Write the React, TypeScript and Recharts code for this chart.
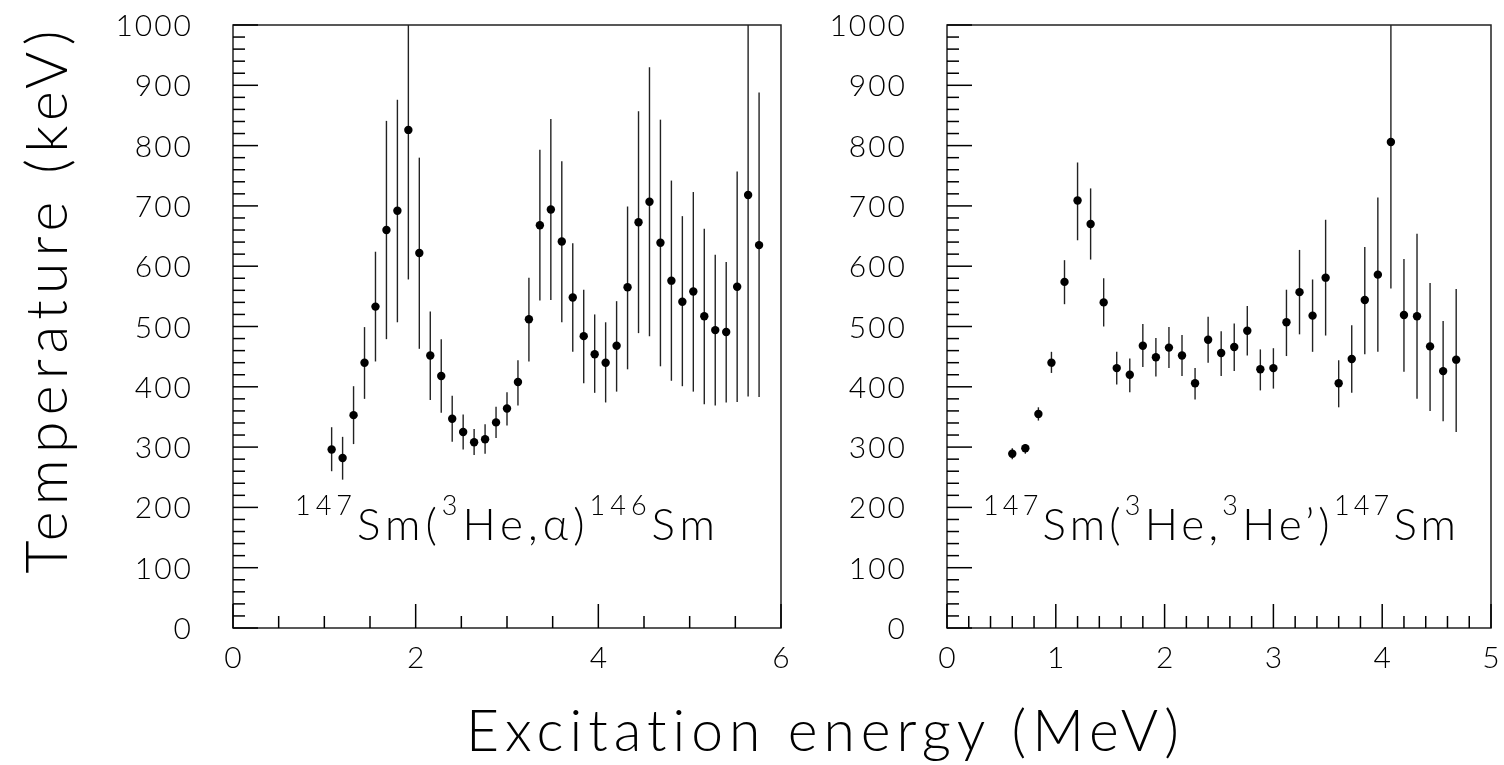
import React from 'react';
import { ScatterChart, Scatter, XAxis, YAxis, ErrorBar, ReferenceArea } from 'recharts';

// 147Sm(3He,alpha)146Sm
const ALPHA_E = [1.08, 1.2, 1.32, 1.44, 1.56, 1.68, 1.8, 1.92, 2.04, 2.16, 2.28, 2.4, 2.52, 2.64, 2.76, 2.88, 3.0, 3.12, 3.24, 3.36,
  3.48, 3.6, 3.72, 3.84, 3.96, 4.08, 4.2, 4.32, 4.44, 4.56, 4.68, 4.8, 4.92, 5.04, 5.16, 5.28, 5.4, 5.52, 5.64, 5.76];
const ALPHA_T = [296, 282, 353, 440, 533, 660, 692, 826, 622, 452, 418, 347, 325, 308, 313, 341, 364, 408, 512, 668,
  694, 641, 548, 484, 454, 440, 468, 565, 673, 707, 639, 576, 541, 558, 517, 494, 491, 566, 718, 635];
const ALPHA_LOW = [260, 246, 305, 380, 442, 479, 507, 578, 463, 378, 357, 309, 296, 287, 289, 315, 336, 369, 442, 543,
  544, 507, 458, 406, 390, 374, 392, 429, 489, 484, 434, 410, 401, 392, 371, 369, 374, 375, 384, 383];
const ALPHA_HIGH = [333, 317, 401, 499, 624, 841, 876, 1000, 780, 525, 479, 385, 354, 330, 338, 367, 391, 444, 581, 793,
  844, 774, 638, 561, 520, 507, 542, 699, 857, 930, 843, 742, 683, 723, 662, 619, 607, 757, 1000, 888];

// 147Sm(3He,3He')147Sm
const INEL_E = [0.6, 0.72, 0.84, 0.96, 1.08, 1.2, 1.32, 1.44, 1.56, 1.68, 1.8, 1.92, 2.04, 2.16, 2.28, 2.4, 2.52, 2.64,
  2.76, 2.88, 3.0, 3.12, 3.24, 3.36, 3.48, 3.6, 3.72, 3.84, 3.96, 4.08, 4.2, 4.32, 4.44, 4.56, 4.68];
const INEL_T = [289, 298, 355, 440, 574, 709, 670, 540, 431, 420, 468, 449, 465, 452, 406, 478, 456, 466,
  493, 429, 431, 507, 557, 518, 581, 406, 446, 544, 586, 806, 519, 517, 467, 426, 445];
const INEL_LOW = [280, 289, 344, 423, 537, 643, 611, 500, 404, 391, 433, 417, 431, 418, 379, 440, 418, 426,
  452, 394, 397, 451, 487, 458, 485, 366, 390, 454, 458, 563, 425, 380, 360, 343, 325];
const INEL_HIGH = [298, 305, 366, 458, 610, 772, 729, 580, 458, 447, 504, 481, 499, 486, 431, 516, 492, 505,
  534, 462, 464, 561, 627, 578, 677, 444, 502, 632, 714, 1000, 612, 654, 572, 509, 562];

const Y_TICKS = [0, 20, 40, 60, 80, 100, 120, 140, 160, 180, 200, 220, 240, 260, 280, 300, 320, 340, 360, 380, 400,
  420, 440, 460, 480, 500, 520, 540, 560, 580, 600, 620, 640, 660, 680, 700, 720, 740, 760, 780, 800,
  820, 840, 860, 880, 900, 920, 940, 960, 980, 1000];
const Y_LABELS = [0, 100, 200, 300, 400, 500, 600, 700, 800, 900, 1000];
const ALPHA_X_TICKS = [0, 0.5, 1, 1.5, 2, 2.5, 3, 3.5, 4, 4.5, 5, 5.5, 6];
const ALPHA_X_LABELS = [0, 2, 4, 6];
const INEL_X_TICKS = [0, 0.2, 0.4, 0.6, 0.8, 1, 1.2, 1.4, 1.6, 1.8, 2, 2.2, 2.4, 2.6, 2.8, 3, 3.2, 3.4, 3.6, 3.8,
  4, 4.2, 4.4, 4.6, 4.8, 5];
const INEL_X_LABELS = [0, 1, 2, 3, 4, 5];

const FONT = "Lato, 'DejaVu Sans', sans-serif";
const WEIGHT = 300;
const INK = '#000';

const toRows = (e: number[], t: number[], lo: number[], hi: number[]) =>
  e.map((x, i) => ({ x, y: t[i], err: [t[i] - lo[i], hi[i] - t[i]] }));

const isLabel = (list: number[], v: number) => list.some((l) => Math.abs(l - v) < 1e-6);

const YTick = (props: any) => {
  const { x, y, payload } = props;
  const major = isLabel(Y_LABELS, payload.value);
  return (
    <g>
      <line x1={x} y1={y} x2={x + (major ? 25 : 12)} y2={y} stroke={INK} strokeWidth={1.5} />
      {major && (
        <text x={x - 40} y={y + 11} textAnchor="end" fontSize={30} fontFamily={FONT} fontWeight={WEIGHT}
          letterSpacing={2} fill={INK}>
          {payload.value}
        </text>
      )}
    </g>
  );
};

const makeXTick = (labels: number[]) => (props: any) => {
  const { x, y, payload } = props;
  const major = isLabel(labels, payload.value);
  return (
    <g>
      <line x1={x} y1={y} x2={x} y2={y - (major ? 24 : 12)} stroke={INK} strokeWidth={1.5} />
      {major && (
        <text x={x} y={y + 40} textAnchor="middle" fontSize={30} fontFamily={FONT} fontWeight={WEIGHT} fill={INK}>
          {payload.value}
        </text>
      )}
    </g>
  );
};

const Dot = (props: any) => <circle cx={props.cx} cy={props.cy} r={4.2} fill="#000" />;

type PanelProps = {
  rows: { x: number; y: number; err: number[] }[];
  xMax: number;
  xTicks: number[];
  xLabels: number[];
  left: number;
  width: number;
  margin: { top: number; right: number; bottom: number; left: number };
};

const Panel = ({ rows, xMax, xTicks, xLabels, left, width, margin }: PanelProps) => (
  <div style={{ position: 'absolute', left, top: 0, willChange: 'transform' }}>
    <ScatterChart width={width} height={700} margin={margin}>
      <XAxis type="number" dataKey="x" domain={[0, xMax]} ticks={xTicks} interval={0} height={40}
        tickSize={0} tickMargin={0} axisLine={false} tick={makeXTick(xLabels)} allowDataOverflow />
      <YAxis type="number" dataKey="y" domain={[0, 1000]} ticks={Y_TICKS} interval={0} width={60}
        tickSize={0} tickMargin={0} axisLine={false} tick={<YTick />} allowDataOverflow />
      <ReferenceArea x1={0} x2={xMax} y1={0} y2={1000} fill="none" stroke="#222" strokeWidth={1.5} />
      <Scatter data={rows} shape={<Dot />} isAnimationActive={false}>
        <ErrorBar dataKey="err" direction="y" width={0} stroke="#222" strokeWidth={1.4} isAnimationActive={false} />
      </Scatter>
    </ScatterChart>
  </div>
);

export default function App() {
  const alphaRows = toRows(ALPHA_E, ALPHA_T, ALPHA_LOW, ALPHA_HIGH);
  const inelRows = toRows(INEL_E, INEL_T, INEL_LOW, INEL_HIGH);
  const sup = { fontSize: 27 };
  return (
    <div style={{ position: 'absolute', left: 0, top: 0, width: 1504, height: 765, background: '#fff', overflow: 'hidden' }}>
      <Panel rows={alphaRows} xMax={6} xTicks={ALPHA_X_TICKS} xLabels={ALPHA_X_LABELS} left={0} width={790}
        margin={{ top: 25, right: 9, bottom: 32, left: 173 }} />
      <Panel rows={inelRows} xMax={5} xTicks={INEL_X_TICKS} xLabels={INEL_X_LABELS} left={795} width={709}
        margin={{ top: 25, right: 13, bottom: 32, left: 92 }} />
      <svg width={1504} height={765}
        style={{ position: 'absolute', left: 0, top: 0, pointerEvents: 'none', willChange: 'transform', fontVariantLigatures: 'none' }}
        fontFamily={FONT} fontWeight={WEIGHT} fill={INK}>
        <text x={295} y={540} fontSize={44} textLength={420} lengthAdjust="spacing">
          <tspan {...sup} dy={-25}>147</tspan>
          <tspan dy={25}>Sm(</tspan>
          <tspan {...sup} dy={-25}>3</tspan>
          <tspan dy={25}>He,α)</tspan>
          <tspan {...sup} dy={-25}>146</tspan>
          <tspan dy={25}>Sm</tspan>
        </text>
        <text x={983} y={540} fontSize={44} textLength={473} lengthAdjust="spacing">
          <tspan {...sup} dy={-25}>147</tspan>
          <tspan dy={25}>Sm(</tspan>
          <tspan {...sup} dy={-25}>3</tspan>
          <tspan dy={25}>He,</tspan>
          <tspan {...sup} dy={-25}>3</tspan>
          <tspan dy={25}>He’)</tspan>
          <tspan {...sup} dy={-25}>147</tspan>
          <tspan dy={25}>Sm</tspan>
        </text>
        <text x={466} y={751} fontSize={57} textLength={713} lengthAdjust="spacing">Excitation energy (MeV)</text>
        <text transform="translate(67 302) rotate(-90)" textAnchor="middle" fontSize={57} textLength={543}
          lengthAdjust="spacing">Temperature (keV)</text>
      </svg>
    </div>
  );
}
